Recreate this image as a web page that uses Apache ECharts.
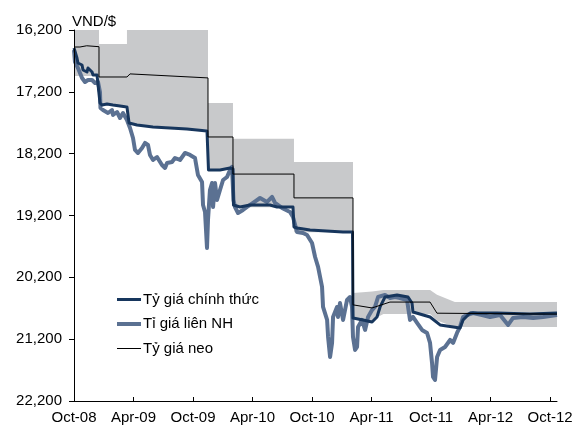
<!DOCTYPE html>
<html>
<head>
<meta charset="utf-8">
<script src="https://cdn.jsdelivr.net/npm/echarts@6/dist/echarts.min.js"></script>
<style>
html,body{margin:0;padding:0;background:#fff;}
#m1{width:580px;height:430px;}
</style>
</head>
<body>
<div id="m1"></div>
<script>
// x = months since Oct-08
var xTicks=[0,6,12,18,24,30,36,42,48];
var xTickLabels=['Oct-08','Apr-09','Oct-09','Apr-10','Oct-10','Apr-11','Oct-11','Apr-12','Oct-12'];

// band (grey area), edges
var bandX=[0,2.52,2.52,5.34,5.34,13.51,13.51,16.03,16.03,22.18,22.18,28.13,28.13,30.05,31.2,35.9,36.6,38.4,48.7];
var bandTop=[16200,16200,16425,16425,16200,16200,17380,17380,17960,17960,18335,18335,20455,20430,20405,20405,20480,20600,20600];
var bandBottom=[16945,16945,17415,17415,17720,17815,18450,18450,19065,19065,19470,19470,20875,20890,20795,20795,20900,21005,21005];

// Tỷ giá neo
var neoX=[0,0.6,1.28,2.52,2.52,5.34,5.65,13.51,13.51,16.03,16.03,22.18,22.18,28.13,28.13,30.05,31.86,35.9,36.6,48.7];
var neoV=[16475,16475,16455,16470,16960,16960,16910,16975,17930,17930,18530,18530,18915,18915,20645,20695,20600,20600,20780,20795];

// Tỷ giá chính thức
var ctX=[0,0.2,0.3,0.4,0.81,0.91,1.31,1.41,1.61,1.82,1.92,2.32,2.52,2.62,2.82,3.33,3.93,4.64,5.34,5.55,6.35,7.97,9.68,11.39,13.41,13.56,14.72,15.73,16.03,16.08,16.23,16.74,17.75,19.76,20.47,22.08,22.18,22.49,23.8,27.12,28.08,28.13,29.14,30.05,30.55,30.86,31.36,32.57,33.68,34.08,34.18,35.9,36.91,38.92,39.23,39.93,42.66,45.98,48.7];
var ctV=[16491,16523,16653,16734,16766,16847,16879,16815,16847,16879,16928,16928,16960,17380,17413,17397,17413,17429,17445,17704,17736,17768,17785,17801,17833,18464,18464,18432,18448,19030,19030,19062,19030,19030,19062,19062,19386,19402,19434,19466,19466,20857,20889,20922,20841,20679,20518,20485,20518,20615,20760,20841,20970,21019,20890,20777,20777,20793,20777];

// Tỉ giá liên NH
var nhX=[0,0.1,0.4,0.81,1.11,1.41,1.82,2.12,2.42,2.62,2.67,2.92,3.43,3.83,3.93,4.34,4.64,4.94,5.34,5.65,5.95,6.15,6.45,6.86,7.16,7.46,7.66,7.97,8.37,8.87,9.18,9.38,9.88,10.18,10.69,11.19,11.7,12.2,12.5,12.91,13.01,13.21,13.41,13.51,13.71,13.92,14.02,14.22,14.42,14.72,15.03,15.43,15.73,15.93,16.03,16.08,16.23,16.54,17.04,17.45,18.05,18.76,19.46,19.97,20.27,20.97,21.78,22.08,22.49,23.09,23.5,24.0,24.31,24.61,25.01,25.11,25.52,25.62,25.82,26.02,26.12,26.52,26.62,26.82,27.13,27.53,27.83,28.03,28.13,28.34,28.54,28.64,29.04,29.35,29.65,30.05,30.35,30.66,31.36,31.87,32.37,32.87,33.58,33.88,34.18,34.59,35.09,35.6,35.9,36.1,36.2,36.4,36.61,36.91,37.41,37.92,38.22,38.62,38.92,39.23,39.63,40.23,41.14,41.95,42.96,43.77,44.27,45.28,46.29,47.29,48.7];
var nhV=[16523,16717,16815,16976,17041,17009,17009,17057,17041,17203,17461,17494,17542,17494,17574,17526,17623,17542,17655,17785,17946,18140,18189,18108,18027,18060,18221,18302,18254,18383,18431,18351,18334,18270,18302,18189,18221,18270,18545,18658,19030,19143,19725,19272,18787,18674,19062,18674,18949,18787,18626,18577,18464,18415,18432,18949,19062,19159,19111,19062,18997,18917,18981,18900,18997,19078,19143,19224,19466,19483,19515,19644,19871,20032,20356,20679,20889,21164,21488,21261,20841,20679,20841,20615,20889,20566,20518,20679,21164,21374,21326,21002,20889,21051,20841,20728,20679,20518,20485,20534,20518,20534,20566,20889,20841,20938,21051,21100,21261,21585,21811,21860,21488,21374,21326,21213,21261,21100,21002,20841,20809,20777,20809,20841,20809,20970,20857,20841,20857,20841,20809];

function pairs(xs,vs){
  var out=[];
  for(var i=0;i<xs.length;i++){ out.push([xs[i],vs[i]]); }
  return out;
}

var myChart=echarts.init(document.getElementById('m1'));
var font='"Liberation Sans", Arial, sans-serif';
var option={
  animation:false,
  title:{
    text:'VND/$',left:67,top:9,
    textStyle:{fontFamily:font,fontSize:15,fontWeight:'normal',color:'#000'}
  },
  grid:{left:74,right:23,top:30,bottom:29},
  legend:{
    data:[
      {name:'Tỷ giá chính thức',icon:'path://M0,0H24V3H0Z'},
      {name:'Tỉ giá liên NH',icon:'path://M0,0H24V4H0Z'},
      {name:'Tỷ giá neo',icon:'path://M0,0H24V1H0Z'}
    ],
    orient:'vertical',left:112,top:287,
    itemWidth:24,itemHeight:14,itemGap:9.5,
    textStyle:{fontFamily:font,fontSize:15,color:'#000',padding:[0,0,0,-3]}
  },
  xAxis:{
    type:'value',min:0,max:48.7,z:10,
    splitLine:{show:false},
    axisLine:{lineStyle:{color:'#000',width:1}},
    axisTick:{inside:true,length:4,customValues:xTicks,lineStyle:{color:'#000'}},
    axisLabel:{
      customValues:xTicks,margin:9,
      fontFamily:font,fontSize:15,color:'#000',
      formatter:function(v){ var i=xTicks.indexOf(Math.round(v)); return i>=0?xTickLabels[i]:''; }
    }
  },
  yAxis:{
    type:'value',inverse:true,min:16200,max:22200,interval:1000,z:10,
    splitLine:{show:false},
    axisLine:{show:true,lineStyle:{color:'#000',width:1}},
    axisTick:{show:true,length:5,lineStyle:{color:'#000'}},
    axisLabel:{
      margin:12,fontFamily:font,fontSize:15,color:'#000',
      formatter:function(v){ return v.toLocaleString('en-US'); }
    }
  },
  series:[
    {name:'bandBottom',type:'line',symbol:'none',silent:true,
     lineStyle:{width:0},areaStyle:{color:'#c8c9cb',opacity:1,origin:'start'},
     data:pairs(bandX,bandBottom)},
    {name:'bandTop',type:'line',symbol:'none',silent:true,
     lineStyle:{width:0},areaStyle:{color:'#ffffff',opacity:1,origin:'start'},
     data:pairs(bandX,bandTop)},
    {name:'Tỉ giá liên NH',type:'line',symbol:'none',
     lineStyle:{color:'#5b7192',width:4,join:'round'},itemStyle:{color:'#5b7192'},
     data:pairs(nhX,nhV)},
    {name:'Tỷ giá chính thức',type:'line',symbol:'none',
     lineStyle:{color:'#17365d',width:3,join:'round'},itemStyle:{color:'#17365d'},
     data:pairs(ctX,ctV)},
    {name:'Tỷ giá neo',type:'line',symbol:'none',
     lineStyle:{color:'#000',width:1},itemStyle:{color:'#000'},
     data:pairs(neoX,neoV)}
  ]
};
myChart.setOption(option);
</script>
</body>
</html>
